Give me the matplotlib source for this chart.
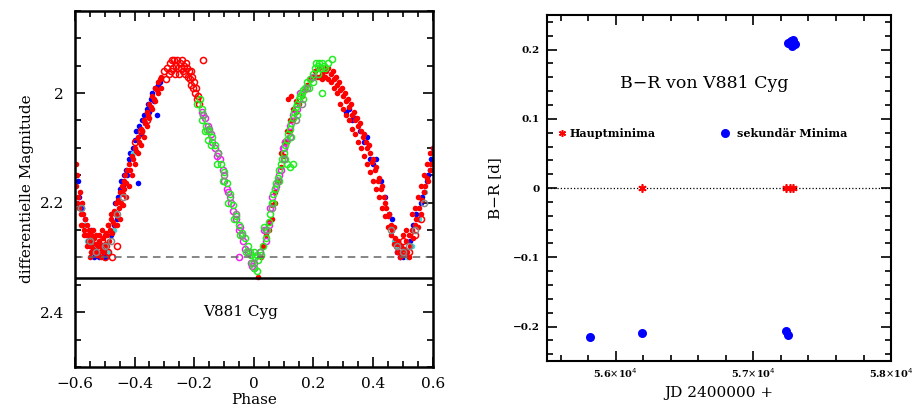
import matplotlib

matplotlib.use("Agg")
import matplotlib.pyplot as plt
from matplotlib.ticker import MultipleLocator

plt.rcParams["font.family"] = ["DejaVu Serif", "DejaVu Sans"]

# --- light curve of V881 Cyg (phase, differential magnitude) ---
red_dot_phase = [
    -0.598, -0.596, -0.594, -0.592, -0.589, -0.586, -0.584, -0.581, -0.578, -0.575,
    -0.572, -0.569, -0.566, -0.563, -0.560, -0.557, -0.554, -0.551, -0.548, -0.545,
    -0.542, -0.539, -0.536, -0.533, -0.530, -0.527, -0.524, -0.521, -0.518, -0.515,
    -0.512, -0.509, -0.506, -0.503, -0.500, -0.497, -0.494, -0.491, -0.488, -0.485,
    -0.482, -0.479, -0.476, -0.473, -0.470, -0.467, -0.464, -0.461, -0.458, -0.455,
    -0.452, -0.449, -0.446, -0.443, -0.440, -0.437, -0.434, -0.431, -0.428, -0.425,
    -0.420, -0.415, -0.410, -0.405, -0.400, -0.395, -0.390, -0.385, -0.380, -0.375,
    -0.370, -0.365, -0.360, -0.355, -0.350, -0.345, -0.340, -0.335, -0.330, -0.325,
    -0.320, -0.315, -0.310,
    0.015, 0.025, 0.030, 0.040, 0.050, 0.060, 0.070, 0.080, 0.090, 0.100,
    0.110, 0.115, 0.120, 0.125, 0.130, 0.140, 0.150, 0.160, 0.170, 0.180,
    0.190, 0.200, 0.205, 0.212, 0.220, 0.228, 0.235, 0.242, 0.250, 0.258,
    0.265, 0.270, 0.275, 0.280, 0.285, 0.290, 0.295, 0.300, 0.305, 0.310,
    0.315, 0.320, 0.325, 0.330, 0.335, 0.340, 0.345, 0.350, 0.355, 0.360,
    0.365, 0.370, 0.375, 0.380, 0.385, 0.390, 0.395, 0.400, 0.405, 0.410,
    0.415, 0.420, 0.425, 0.430, 0.435, 0.440, 0.445, 0.450, 0.455, 0.460,
    0.465, 0.470, 0.475, 0.480, 0.485, 0.490, 0.495, 0.500, 0.505, 0.510,
    0.515, 0.520, 0.525, 0.530, 0.535, 0.540, 0.545, 0.550, 0.555, 0.560,
    0.565, 0.570, 0.575, 0.580, 0.585, 0.590, 0.595,
]
red_dot_mag = [
    2.13, 2.17, 2.20, 2.15, 2.19, 2.21, 2.18, 2.22, 2.20, 2.24,
    2.22, 2.25, 2.23, 2.26, 2.24, 2.27, 2.25, 2.28, 2.26, 2.29,
    2.27, 2.285, 2.265, 2.29, 2.275, 2.295, 2.28, 2.26, 2.29, 2.275,
    2.30, 2.285, 2.265, 2.29, 2.275, 2.255, 2.28, 2.26, 2.24, 2.27,
    2.25, 2.23, 2.255, 2.235, 2.215, 2.24, 2.22, 2.20, 2.225, 2.195,
    2.21, 2.18, 2.20, 2.17, 2.185, 2.16, 2.175, 2.15, 2.165, 2.14,
    2.13, 2.14, 2.115, 2.12, 2.10, 2.105, 2.08, 2.09, 2.065, 2.07,
    2.05, 2.055, 2.035, 2.04, 2.02, 2.025, 2.005, 2.01, 1.99, 1.995,
    1.98, 1.975, 1.97,
    2.335, 2.30, 2.28, 2.26, 2.235, 2.205, 2.18, 2.16, 2.135, 2.115,
    2.09, 2.01, 2.07, 2.005, 2.05, 2.035, 2.02, 2.005, 1.995, 1.985,
    1.975, 1.97, 1.96, 1.97, 1.955, 1.965, 1.955, 1.96, 1.955, 1.965,
    1.96, 1.975, 1.97, 1.985, 1.98, 1.995, 1.99, 2.005, 2.00, 2.015,
    2.01, 2.025, 2.02, 2.04, 2.035, 2.05, 2.045, 2.06, 2.055, 2.07,
    2.08, 2.075, 2.09, 2.10, 2.095, 2.11, 2.125, 2.12, 2.14, 2.135,
    2.16, 2.155, 2.175, 2.17, 2.19, 2.20, 2.21, 2.225, 2.22, 2.24,
    2.25, 2.245, 2.265, 2.275, 2.27, 2.29, 2.28, 2.295, 2.285, 2.27,
    2.29, 2.26, 2.28, 2.25, 2.265, 2.24, 2.23, 2.245, 2.21, 2.22,
    2.195, 2.18, 2.17, 2.155, 2.16, 2.14, 2.13,
]

# second red band: the fainter / brighter edge of the scatter
red_dot2_phase = [
    -0.580, -0.570, -0.560, -0.550, -0.540, -0.530, -0.520, -0.510, -0.500, -0.490, -0.480,
    -0.460, -0.450, -0.440, -0.430, -0.420, -0.410, -0.400, -0.390, -0.380, -0.370,
    -0.360, -0.350, -0.340, -0.330, -0.320, -0.310,
    0.050, 0.060, 0.070, 0.090, 0.100, 0.110, 0.120, 0.130, 0.140,
    0.220, 0.230, 0.240, 0.250, 0.260,
    0.270, 0.280, 0.290, 0.300, 0.310, 0.320, 0.330, 0.340, 0.350, 0.360,
    0.370, 0.380, 0.390, 0.400, 0.410, 0.420, 0.430, 0.440, 0.450, 0.460,
    0.470, 0.480, 0.490, 0.500, 0.510, 0.520, 0.530, 0.540, 0.550, 0.560,
    0.570, 0.580, 0.590, 0.600,
]
red_dot2_mag = [
    2.24, 2.26, 2.28, 2.30, 2.25, 2.26, 2.27, 2.25, 2.26, 2.24, 2.22,
    2.24, 2.23, 2.205, 2.19, 2.17, 2.15, 2.13, 2.11, 2.095, 2.08,
    2.06, 2.045, 2.03, 2.015, 2.00, 1.99,
    2.25, 2.23, 2.20, 2.11, 2.09, 2.07, 2.05, 2.03, 2.015,
    1.97, 1.975, 1.97, 1.975, 1.98,
    1.99, 2.00, 2.02, 2.03, 2.04, 2.05, 2.065, 2.075, 2.09, 2.10,
    2.115, 2.13, 2.145, 2.16, 2.175, 2.19, 2.21, 2.225, 2.245, 2.26,
    2.275, 2.29, 2.30, 2.26, 2.25, 2.30, 2.22, 2.21, 2.19, 2.17,
    2.15, 2.13, 2.11, 2.10,
]

red_ring_phase = [
    -0.300, -0.295, -0.290, -0.285, -0.280, -0.278, -0.275, -0.270, -0.268, -0.265,
    -0.262, -0.258, -0.255, -0.252, -0.248, -0.245, -0.242, -0.238, -0.235, -0.232,
    -0.228, -0.225, -0.222, -0.218, -0.215, -0.212, -0.210, -0.207, -0.204, -0.200,
    -0.197, -0.193, -0.190, -0.186, -0.183, -0.171,
    -0.550, -0.530, -0.510, -0.490, -0.475, -0.500, -0.460, -0.400, -0.380, -0.360,
    0.480, 0.500, 0.520, 0.540, 0.560,
]
red_ring_mag = [
    1.96, 1.975, 1.955, 1.965, 1.945, 1.96, 1.94, 1.955, 1.94, 1.965,
    1.95, 1.94, 1.955, 1.965, 1.945, 1.955, 1.94, 1.96, 1.95, 1.965,
    1.945, 1.955, 1.97, 1.96, 1.975, 1.96, 1.985, 1.97, 1.99, 1.98,
    2.00, 1.99, 2.01, 2.005, 2.02, 1.94,
    2.26, 2.28, 2.27, 2.29, 2.30, 2.30, 2.28, 2.09, 2.07, 2.05,
    2.28, 2.27, 2.29, 2.26, 2.23,
]

blue_phase = [
    -0.590, -0.585, -0.575, -0.565, -0.560, -0.550, -0.545, -0.535, -0.530, -0.520,
    -0.510, -0.500, -0.480, -0.470, -0.465, -0.460, -0.455, -0.450, -0.445, -0.440,
    -0.435, -0.430, -0.425, -0.420, -0.415, -0.390, -0.405, -0.400, -0.395, -0.385,
    -0.380, -0.375, -0.370, -0.365, -0.360, -0.355, -0.350, -0.345, -0.340, -0.335,
    -0.330, -0.325, -0.320, -0.315,
    0.310, 0.320, 0.330, 0.340, 0.355, 0.370, 0.380, 0.390, 0.400, 0.410,
    0.425, 0.440, 0.455, 0.465, 0.475, 0.480, 0.490, 0.500, 0.510, 0.525,
    0.535, 0.545, 0.550, 0.560, 0.565, 0.570, 0.580, 0.585, 0.590, 0.595, 0.600,
]
blue_mag = [
    2.16, 2.19, 2.21, 2.23, 2.26, 2.28, 2.25, 2.30, 2.29, 2.30,
    2.29, 2.30, 2.26, 2.24, 2.20, 2.23, 2.19, 2.175, 2.16, 2.17,
    2.15, 2.14, 2.15, 2.12, 2.11, 2.165, 2.10, 2.085, 2.07, 2.06,
    2.075, 2.05, 2.04, 2.055, 2.03, 2.02, 2.035, 2.01, 2.00, 2.015,
    1.99, 2.04, 1.985, 1.98,
    2.035, 2.03, 2.05, 2.045, 2.07, 2.09, 2.08, 2.12, 2.13, 2.12,
    2.16, 2.19, 2.22, 2.23, 2.27, 2.29, 2.30, 2.30, 2.29, 2.27,
    2.24, 2.22, 2.23, 2.20, 2.19, 2.18, 2.16, 2.15, 2.14, 2.12, 2.10,
]

cyan_phase = [
    -0.585, -0.570, -0.560, -0.545, -0.530, -0.520, -0.505, -0.490, -0.470, -0.405,
    0.470, 0.485, 0.500, 0.515, 0.530, 0.555, 0.575, 0.597,
]
cyan_mag = [
    2.21, 2.24, 2.27, 2.29, 2.28, 2.295, 2.28, 2.29, 2.25, 2.11,
    2.27, 2.28, 2.29, 2.30, 2.28, 2.23, 2.18, 2.11,
]

green_phase = [
    -0.190, -0.181, -0.175, -0.170, -0.160, -0.158, -0.150, -0.140, -0.130, -0.120,
    -0.110, -0.100, -0.090, -0.080, -0.070, -0.060, -0.050, -0.040, -0.030, -0.020,
    -0.013, -0.010, -0.005, 0.000, 0.005, 0.010, 0.015, 0.020, 0.000, 0.010,
    0.025, 0.030, 0.040, 0.045, 0.050, 0.055, 0.060, 0.065, 0.070, 0.075,
    0.080, 0.085, 0.090, 0.095, 0.100, 0.105, 0.110, 0.115, 0.120, 0.125,
    0.130, 0.135, 0.140, 0.145, 0.150, 0.155, 0.160, 0.165, 0.170, 0.180,
    0.190, 0.200, 0.205, 0.210, 0.215, 0.220, 0.225, 0.230, 0.235, 0.240,
    0.250, 0.261, 0.228, 0.131, 0.110, 0.120,
    -0.175, -0.165, -0.155, -0.145, -0.125, -0.105, -0.085, -0.065, -0.045, -0.025,
    0.035, 0.065, 0.085, 0.105, 0.125, 0.145, 0.165, 0.185, 0.200, 0.215,
]
green_mag = [
    2.02, 2.01, 2.03, 2.04, 2.06, 2.067, 2.07, 2.08, 2.095, 2.11,
    2.13, 2.145, 2.165, 2.185, 2.205, 2.225, 2.24, 2.255, 2.265, 2.28,
    2.29, 2.295, 2.31, 2.29, 2.30, 2.295, 2.305, 2.29, 2.32, 2.325,
    2.295, 2.28, 2.265, 2.25, 2.235, 2.22, 2.20, 2.185, 2.175, 2.165,
    2.155, 2.14, 2.13, 2.12, 2.11, 2.095, 2.085, 2.075, 2.065, 2.055,
    2.045, 2.035, 2.025, 2.02, 2.01, 2.005, 2.00, 1.995, 1.99, 1.98,
    1.975, 1.965, 1.955, 1.945, 1.95, 1.945, 1.955, 1.945, 1.95, 1.955,
    1.945, 1.938, 2.00, 2.129, 2.13, 2.135,
    2.05, 2.07, 2.085, 2.095, 2.13, 2.16, 2.20, 2.23, 2.26, 2.29,
    2.245, 2.20, 2.16, 2.12, 2.08, 2.04, 2.01, 1.99, 1.98, 1.965,
]

magenta_phase = [
    -0.175, -0.165, -0.155, -0.145, -0.140, -0.130, -0.125, -0.115, -0.105, -0.100,
    -0.090, -0.085, -0.075, -0.070, -0.060, -0.050, -0.045, -0.035, -0.030, -0.050,
    -0.010, -0.005, 0.000, 0.040, 0.035, 0.050, 0.055, 0.060, 0.070, 0.075,
    0.085, 0.090, 0.097, 0.100, 0.105, 0.120, 0.131, 0.145, 0.154,
]
magenta_mag = [
    2.035, 2.045, 2.06, 2.075, 2.09, 2.10, 2.115, 2.12, 2.14, 2.16,
    2.175, 2.18, 2.20, 2.215, 2.23, 2.25, 2.245, 2.27, 2.285, 2.30,
    2.31, 2.315, 2.32, 2.27, 2.25, 2.24, 2.21, 2.19, 2.175, 2.17,
    2.15, 2.14, 2.10, 2.10, 2.09, 2.06, 2.04, 2.03, 2.00,
]

gray_phase = [
    -0.580, -0.550, -0.530, -0.500, -0.480, -0.460, -0.440,
    -0.170, -0.150, -0.120, -0.100, -0.080, -0.060, -0.040, -0.020, 0.000,
    0.020, 0.040, 0.060, 0.080, 0.100, 0.120, 0.140, 0.160, 0.180, 0.200,
    0.460, 0.480, 0.500, 0.520, 0.540, 0.570,
]
gray_mag = [
    2.21, 2.27, 2.29, 2.28, 2.27, 2.22, 2.19,
    2.04, 2.065, 2.11, 2.15, 2.19, 2.22, 2.26, 2.29, 2.31,
    2.29, 2.25, 2.21, 2.16, 2.12, 2.08, 2.05, 2.02, 1.99, 1.97,
    2.25, 2.28, 2.29, 2.28, 2.25, 2.20,
]

SECONDARY_DEPTH = 2.30
PRIMARY_DEPTH = 2.338

# --- B-R of V881 Cyg (JD - 2400000, days) ---
prim_jd = [56190, 57240, 57265, 57290]
prim_br = [0.0, 0.0, 0.0, 0.0]
sec_jd = [55810, 56190, 57240, 57250, 57250, 57260, 57270, 57280, 57290, 57300]
sec_br = [-0.215, -0.21, -0.207, -0.212, 0.21, 0.209, 0.212, 0.205, 0.214, 0.208]

ASTERISK = (6, 2, 0)


def style_axes(ax, lw=1.6):
    for s in ax.spines.values():
        s.set_linewidth(lw)
    ax.tick_params(which="both", direction="in", top=True, right=True, width=1.2)
    ax.tick_params(which="major", length=7)
    ax.tick_params(which="minor", length=4)


def plot_lightcurve(ax):
    ring = dict(ls="none", marker="o", ms=4.4, mfc="none", mew=1.1)
    dot = dict(ls="none", marker="o", ms=4.0, mew=0)
    ax.plot(blue_phase, blue_mag, color="#0000ff", **dot)
    ax.plot(cyan_phase, cyan_mag, color="#33dddd", **dot)
    ax.plot(red_dot2_phase, red_dot2_mag, color="#ff0000", **dot)
    ax.plot(red_dot_phase, red_dot_mag, color="#ff0000", **dot)
    ax.plot(red_ring_phase, red_ring_mag, mec="#ff0000", **ring)
    ax.plot(magenta_phase, magenta_mag, mec="#ee22ee", **ring)
    ax.plot(green_phase, green_mag, mec="#22ee22", **ring)
    ax.plot(gray_phase, gray_mag, mec="#888888", **ring)

    ax.axhline(SECONDARY_DEPTH, color="#666666", ls=(0, (5, 3.5)), lw=1.1)
    ax.axhline(PRIMARY_DEPTH, color="black", lw=1.8)
    ax.text(-0.045, 2.4, "V881 Cyg", ha="center", va="center", fontsize=11)

    ax.set_xlim(-0.6, 0.6)
    ax.set_ylim(2.5, 1.85)
    ax.xaxis.set_major_locator(MultipleLocator(0.2))
    ax.xaxis.set_minor_locator(MultipleLocator(0.05))
    ax.yaxis.set_major_locator(MultipleLocator(0.2))
    ax.yaxis.set_minor_locator(MultipleLocator(0.05))
    ax.set_xticks([-0.6, -0.4, -0.2, 0, 0.2, 0.4, 0.6])
    ax.set_xticklabels(["\u22120.6", "\u22120.4", "\u22120.2", "0", "0.2", "0.4", "0.6"])
    ax.set_yticks([2.0, 2.2, 2.4])
    ax.set_yticklabels(["2", "2.2", "2.4"])
    style_axes(ax, lw=1.8)
    ax.tick_params(axis="x", labelsize=11, pad=7)
    ax.tick_params(axis="y", labelsize=11, pad=8)
    ax.set_xlabel("Phase", fontsize=11, labelpad=2)
    ax.set_ylabel("differentielle Magnitude", fontsize=11, labelpad=4)


def plot_br(ax):
    ax.axhline(0, color="black", ls=":", lw=0.9)
    ax.plot(prim_jd, prim_br, ls="none", marker=ASTERISK, ms=6, mew=1.2, color="#ff0000")
    ax.plot(sec_jd, sec_br, ls="none", marker="o", ms=6.5, mew=0, color="#0000ff")

    ax.text(56645, 0.151, "B\u2212R von V881 Cyg", ha="center", va="center", fontsize=12.5)
    ax.plot([55609], [0.079], ls="none", marker=ASTERISK, ms=5, mew=1.1, color="#ff0000")
    ax.text(55660, 0.079, "Hauptminima", ha="left", va="center", fontsize=8, fontweight="bold")
    ax.plot([56797], [0.079], ls="none", marker="o", ms=6.5, mew=0, color="#0000ff")
    ax.text(56880, 0.079, "sekund\u00e4r Minima", ha="left", va="center", fontsize=8, fontweight="bold")

    ax.set_xlim(55500, 58000)
    ax.set_ylim(-0.25, 0.25)
    ax.xaxis.set_major_locator(MultipleLocator(1000))
    ax.xaxis.set_minor_locator(MultipleLocator(200))
    ax.yaxis.set_major_locator(MultipleLocator(0.1))
    ax.yaxis.set_minor_locator(MultipleLocator(0.02))
    ax.set_xticks([56000, 57000, 58000])
    ax.set_xticklabels([r"5.6$\times$10$^4$", r"5.7$\times$10$^4$", r"5.8$\times$10$^4$"])
    ax.set_yticks([-0.2, -0.1, 0, 0.1, 0.2])
    ax.set_yticklabels(["\u22120.2", "\u22120.1", "0", "0.1", "0.2"])
    style_axes(ax, lw=1.5)
    ax.tick_params(axis="x", labelsize=7, pad=4)
    ax.tick_params(axis="y", labelsize=7.5, pad=5)
    for lab in ax.get_xticklabels() + ax.get_yticklabels():
        lab.set_fontweight("bold")
    ax.set_xlabel("JD 2400000 +", fontsize=11, labelpad=4)
    ax.set_ylabel("B\u2212R [d]", fontsize=11, labelpad=8)


def main():
    fig = plt.figure(figsize=(9.22, 4.17), dpi=100)
    ax_lc = fig.add_axes([0.0813, 0.12, 0.388, 0.854])
    ax_br = fig.add_axes([0.5933, 0.134, 0.3731, 0.830])
    plot_lightcurve(ax_lc)
    plot_br(ax_br)
    fig.savefig("out.png", dpi=100)
    plt.close(fig)


if __name__ == "__main__":
    main()
